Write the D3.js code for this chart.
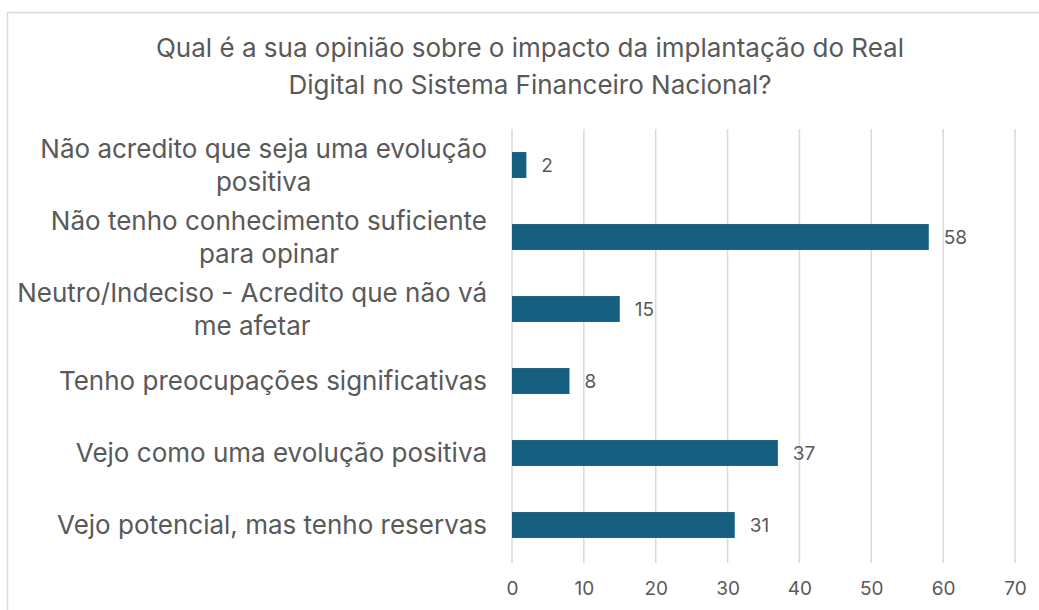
<!DOCTYPE html>
<html>
<head>
<meta charset="utf-8">
<script src="https://cdn.jsdelivr.net/npm/d3@7"></script>
<style>
  html, body { margin: 0; padding: 0; background: #fff; }
  svg { display: block; }
  text { font-family: Inter, "Noto Sans", sans-serif; fill: #595959; }
</style>
</head>
<body>
<svg id="chart" width="1039" height="610"></svg>
<script>
const categories = [
  ['Não acredito que seja uma evolução', 'positiva'],
  ['Não tenho conhecimento suficiente', 'para opinar'],
  ['Neutro/Indeciso - Acredito que não vá', 'me afetar'],
  ['Tenho preocupações significativas'],
  ['Vejo como uma evolução positiva'],
  ['Vejo potencial, mas tenho reservas'],
];
const values = [2, 58, 15, 8, 37, 31];
const xTicks = [0, 10, 20, 30, 40, 50, 60, 70];
const titleLines = [
  'Qual é a sua opinião sobre o impacto da implantação do Real',
  'Digital no Sistema Financeiro Nacional?',
];

const barColor = '#175f80';
const gridColor = '#d9d9d9';
const labelRight = 487;
const lineHeight = 33;

const svg = d3.select('#chart');

// outer chart frame, cut off at the right and bottom like the screenshot
svg.append('rect')
  .attr('x', 7.5)
  .attr('y', 12.5)
  .attr('width', 1100)
  .attr('height', 700)
  .attr('fill', 'none')
  .attr('stroke', gridColor)
  .attr('stroke-width', 1.5);

svg.append('g')
  .selectAll('text')
  .data(titleLines)
  .enter()
  .append('text')
  .attr('x', 530)
  .attr('y', (d, i) => 48 + i * 37)
  .attr('dy', '0.35em')
  .attr('text-anchor', 'middle')
  .style('font-size', '26px')
  .text(d => d);

const x = d3.scaleLinear()
  .domain([0, 70])
  .range([512, 1015]);

const y = d3.scaleBand()
  .domain(d3.range(categories.length))
  .range([129, 561])
  .paddingInner(0.64)
  .paddingOuter(0.32);

// vertical gridlines
svg.append('g')
  .selectAll('line')
  .data(xTicks)
  .enter()
  .append('line')
  .attr('x1', d => x(d))
  .attr('x2', d => x(d))
  .attr('y1', 129)
  .attr('y2', 563)
  .attr('stroke', gridColor)
  .attr('stroke-width', 1.5);

// x axis labels
const xAxis = d3.axisBottom(x)
  .tickValues(xTicks)
  .tickSize(0)
  .tickPadding(0);
const axisG = svg.append('g')
  .attr('transform', 'translate(0,588)')
  .call(xAxis);
axisG.select('.domain').remove();
axisG.selectAll('text')
  .attr('dy', '0.35em')
  .attr('y', 0)
  .style('font-size', '19px')
  .style('font-family', 'Inter, "Noto Sans", sans-serif')
  .attr('fill', '#595959');

// bars
svg.append('g')
  .selectAll('rect')
  .data(values)
  .enter()
  .append('rect')
  .attr('x', x(0))
  .attr('y', (d, i) => y(i))
  .attr('width', d => x(d) - x(0))
  .attr('height', y.bandwidth())
  .attr('fill', barColor);

// value labels
svg.append('g')
  .selectAll('text')
  .data(values)
  .enter()
  .append('text')
  .attr('x', d => x(d) + 15)
  .attr('y', (d, i) => y(i) + y.bandwidth() / 2)
  .attr('dy', '0.35em')
  .style('font-size', '19px')
  .text(d => d);

// category labels: block right aligned, lines centered inside the block
const catG = svg.append('g');
categories.forEach((lines, i) => {
  const cy = y(i) + y.bandwidth() / 2;
  const g = catG.append('g');
  const texts = g.selectAll('text')
    .data(lines)
    .enter()
    .append('text')
    .attr('y', (d, j) => cy + (j - (lines.length - 1) / 2) * lineHeight)
    .attr('dy', '0.35em')
    .attr('text-anchor', 'middle')
    .style('font-size', '26px')
    .text(d => d);
  let maxW = 0;
  texts.each(function () { maxW = Math.max(maxW, this.getComputedTextLength()); });
  texts.attr('x', labelRight - maxW / 2);
});
</script>
</body>
</html>
